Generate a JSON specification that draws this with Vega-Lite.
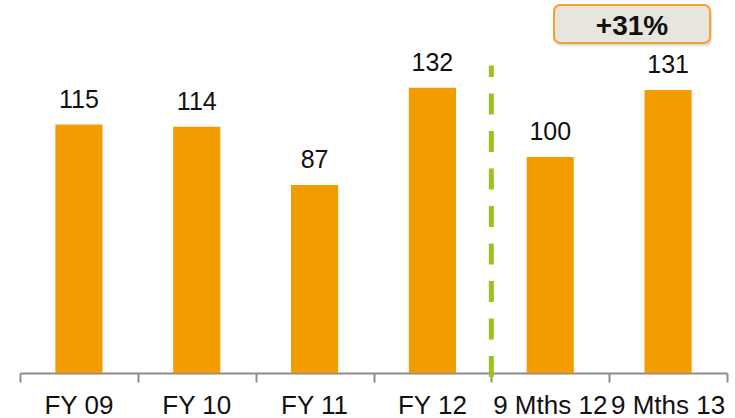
{
  "$schema": "https://vega.github.io/schema/vega-lite/v6.json",
  "width": 707,
  "height": 371,
  "autosize": {"type": "none"},
  "padding": {"left": 20, "right": 8, "top": 2, "bottom": 45},
  "config": {"view": {"stroke": null}, "font": "Liberation Sans"},
  "datasets": {
    "sales": [
      {"period": "FY 09", "value": 115},
      {"period": "FY 10", "value": 114},
      {"period": "FY 11", "value": 87},
      {"period": "FY 12", "value": 132},
      {"period": "9 Mths 12", "value": 100},
      {"period": "9 Mths 13", "value": 131}
    ],
    "divider": [
      {"pos": 4, "bottom": -1.8, "top": 142.3}
    ],
    "callout": [
      {"x0": 4.532, "x1": 5.856, "y0": 152.7, "y1": 170.3, "sx0": 4.548, "sx1": 5.872, "sy0": 151.2, "sy1": 168.8, "lx": 5.194, "ly": 156.4, "label": "+31%"}
    ]
  },
  "layer": [
    {
      "data": {"name": "sales"},
      "encoding": {
        "x": {
          "field": "period",
          "type": "nominal",
          "sort": null,
          "scale": {"paddingInner": 0.6, "paddingOuter": 0.3},
          "axis": {
            "orient": "bottom",
            "title": null,
            "domain": false,
            "ticks": false,
            "labelAngle": 0,
            "labelFontSize": 26,
            "labelColor": "#111111",
            "labelBaseline": "alphabetic",
            "labelPadding": 40,
            "labelOverlap": false,
            "labelFont": "Liberation Sans"
          }
        },
        "y": {
          "field": "value",
          "type": "quantitative",
          "scale": {"domain": [0, 171.7], "nice": false, "zero": true},
          "axis": null
        }
      },
      "layer": [
        {"mark": {"type": "bar", "color": "#F39C00"}},
        {
          "mark": {"type": "text", "baseline": "alphabetic", "dy": -17, "fontSize": 25, "color": "#111111"},
          "encoding": {"text": {"field": "value", "type": "quantitative"}}
        }
      ]
    },
    {
      "layer": [
        {
          "data": {"name": "divider"},
          "mark": {"type": "rule", "color": "#9CC21E", "strokeWidth": 5, "strokeDash": [21, 16.5]},
          "encoding": {
            "x": {
              "field": "pos",
              "type": "quantitative",
              "scale": {"domain": [0, 6], "nice": false, "zero": false},
              "axis": {"orient": "bottom", "title": null, "values": [0, 1, 2, 3, 4, 5, 6], "labels": false, "grid": false, "domainColor": "#8C8C8C", "domainWidth": 2, "tickColor": "#8C8C8C", "tickWidth": 2, "tickSize": 9}
            },
            "y": {"field": "bottom", "type": "quantitative", "scale": {"domain": [0, 171.7], "nice": false, "zero": true}, "axis": null},
            "y2": {"field": "top"}
          }
        },
        {
          "data": {"name": "callout"},
          "mark": {"type": "rect", "cornerRadius": 6, "fill": "#000000", "opacity": 0.12},
          "encoding": {
            "x": {
              "field": "sx0",
              "type": "quantitative",
              "scale": {"domain": [0, 6], "nice": false, "zero": false},
              "axis": {"orient": "bottom", "title": null, "values": [0, 1, 2, 3, 4, 5, 6], "labels": false, "grid": false, "domainColor": "#8C8C8C", "domainWidth": 2, "tickColor": "#8C8C8C", "tickWidth": 2, "tickSize": 9}
            },
            "x2": {"field": "sx1"},
            "y": {"field": "sy0", "type": "quantitative", "scale": {"domain": [0, 171.7], "nice": false, "zero": true}, "axis": null},
            "y2": {"field": "sy1"}
          }
        },
        {
          "data": {"name": "callout"},
          "mark": {"type": "rect", "cornerRadius": 6, "fill": "#E7E5DD", "stroke": "#F0A22E", "strokeWidth": 2},
          "encoding": {
            "x": {
              "field": "x0",
              "type": "quantitative",
              "scale": {"domain": [0, 6], "nice": false, "zero": false},
              "axis": {"orient": "bottom", "title": null, "values": [0, 1, 2, 3, 4, 5, 6], "labels": false, "grid": false, "domainColor": "#8C8C8C", "domainWidth": 2, "tickColor": "#8C8C8C", "tickWidth": 2, "tickSize": 9}
            },
            "x2": {"field": "x1"},
            "y": {"field": "y0", "type": "quantitative", "scale": {"domain": [0, 171.7], "nice": false, "zero": true}, "axis": null},
            "y2": {"field": "y1"}
          }
        },
        {
          "data": {"name": "callout"},
          "mark": {"type": "text", "fontWeight": "bold", "fontSize": 28, "baseline": "alphabetic", "align": "center", "color": "#111111"},
          "encoding": {
            "x": {
              "field": "lx",
              "type": "quantitative",
              "scale": {"domain": [0, 6], "nice": false, "zero": false},
              "axis": {"orient": "bottom", "title": null, "values": [0, 1, 2, 3, 4, 5, 6], "labels": false, "grid": false, "domainColor": "#8C8C8C", "domainWidth": 2, "tickColor": "#8C8C8C", "tickWidth": 2, "tickSize": 9}
            },
            "y": {"field": "ly", "type": "quantitative", "scale": {"domain": [0, 171.7], "nice": false, "zero": true}, "axis": null},
            "text": {"field": "label", "type": "nominal"}
          }
        }
      ]
    }
  ],
  "resolve": {"scale": {"x": "independent"}, "axis": {"x": "independent"}}
}
